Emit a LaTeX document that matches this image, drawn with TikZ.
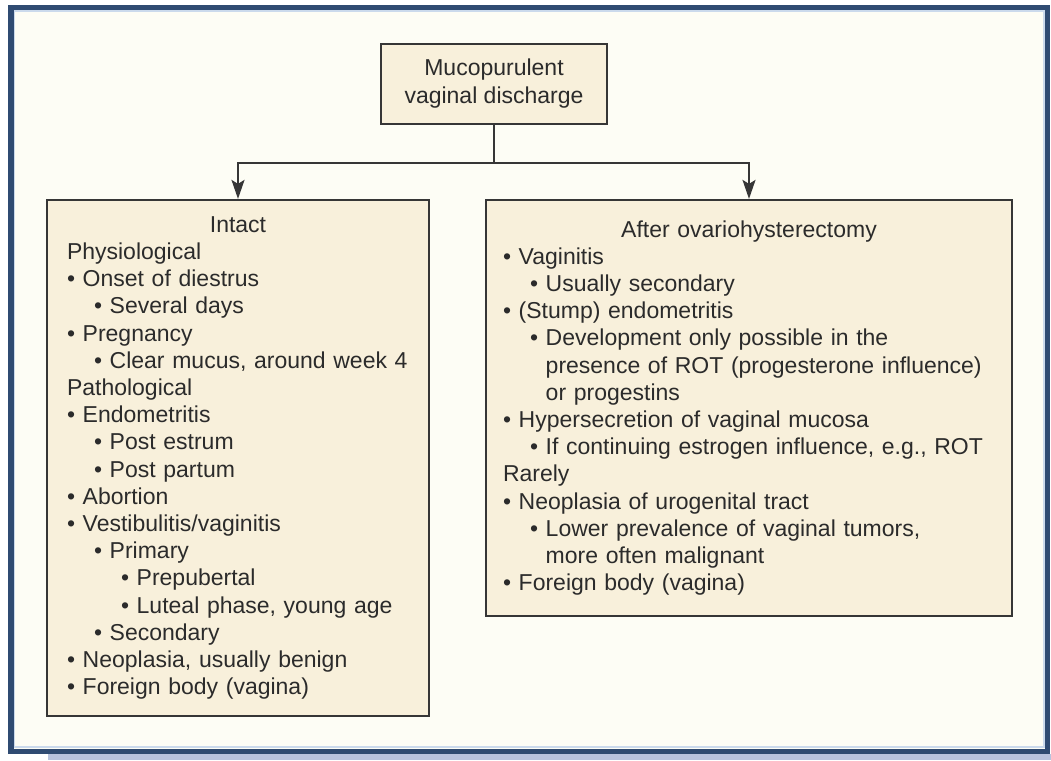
\documentclass[tikz,border=0pt]{standalone}
\usepackage{fontspec}
\setmainfont{Liberation Sans}
\usetikzlibrary{arrows.meta,positioning}
\definecolor{frameBlue}{HTML}{2F4B72}
\definecolor{frameLight}{HTML}{CBDAEC}
\definecolor{shadowBlue}{HTML}{B8C3DE}
\definecolor{pageCream}{HTML}{FDFDF5}
\definecolor{boxBeige}{HTML}{F8F0DB}
\definecolor{lineGray}{HTML}{363636}
\definecolor{textGray}{HTML}{2B2B2B}

% bullet levels
\newcommand{\lvone}[1]{\textbullet\ #1}
\newcommand{\lvtwo}[1]{\hspace*{27pt}\textbullet\ #1}
\newcommand{\lvthree}[1]{\hspace*{54pt}\textbullet\ #1}
\newcommand{\lvcont}[1]{\hspace*{27pt}\hphantom{\textbullet\ }#1}

\begin{document}
\begin{tikzpicture}[x=1pt, y=-1pt,
    box/.style={draw=lineGray, line width=2.2pt, fill=boxBeige, text=textGray,
        font=\fontsize{23pt}{27.2pt}\selectfont},
    arr/.style={draw=lineGray, line width=2pt, -{Stealth[length=19pt,width=13pt,inset=4pt]}}]
    \useasboundingbox (0,0) rectangle (1051,760);
    % frame
    \fill[white] (0,0) rectangle (1051,760);
    \fill[shadowBlue] (48,754) rectangle (1051,760);
    \fill[pageCream] (10,7) rectangle (1048,752);
    \draw[frameLight, line width=2pt] (14,11) rectangle (1044,747);
    \draw[frameBlue, line width=5.5pt] (10.75,7.75) rectangle (1047.25,751.5);

    \node[box, minimum width=226pt, minimum height=80pt, align=center,
        font=\fontsize{23pt}{28pt}\selectfont] (top) at (494,84)
        {Mucopurulent\\vaginal discharge};

    \node[box, text width=342pt, inner xsep=20pt, inner ysep=4pt,
        minimum height=516pt, align=left] (intact) at (238,458) {%
        \makebox[342pt]{Intact}\\
        Physiological\\
        \lvone{Onset of diestrus}\\
        \lvtwo{Several days}\\
        \lvone{Pregnancy}\\
        \lvtwo{Clear mucus, around week 4}\\
        Pathological\\
        \lvone{Endometritis}\\
        \lvtwo{Post estrum}\\
        \lvtwo{Post partum}\\
        \lvone{Abortion}\\
        \lvone{Vestibulitis/vaginitis}\\
        \lvtwo{Primary}\\
        \lvthree{Prepubertal}\\
        \lvthree{Luteal phase, young age}\\
        \lvtwo{Secondary}\\
        \lvone{Neoplasia, usually benign}\\
        \lvone{Foreign body (vagina)}};

    \node[box, text width=492pt, inner xsep=17pt, inner ysep=4pt,
        minimum height=416pt, align=left] (after) at (749,408) {%
        \makebox[492pt]{After ovariohysterectomy}\\
        \lvone{Vaginitis}\\
        \lvtwo{Usually secondary}\\
        \lvone{(Stump) endometritis}\\
        \lvtwo{Development only possible in the}\\
        \lvcont{presence of ROT (progesterone influence)}\\
        \lvcont{or progestins}\\
        \lvone{Hypersecretion of vaginal mucosa}\\
        \lvtwo{If continuing estrogen influence, e.g., ROT}\\
        Rarely\\
        \lvone{Neoplasia of urogenital tract}\\
        \lvtwo{Lower prevalence of vaginal tumors,}\\
        \lvcont{more often malignant}\\
        \lvone{Foreign body (vagina)}};

    % branches
    \coordinate (split) at (494,163);
    \draw[lineGray, line width=2pt] (top.south) -- (split);
    \draw[arr] (split) -| (intact.north);
    \draw[arr] (split) -| (after.north);
\end{tikzpicture}
\end{document}
